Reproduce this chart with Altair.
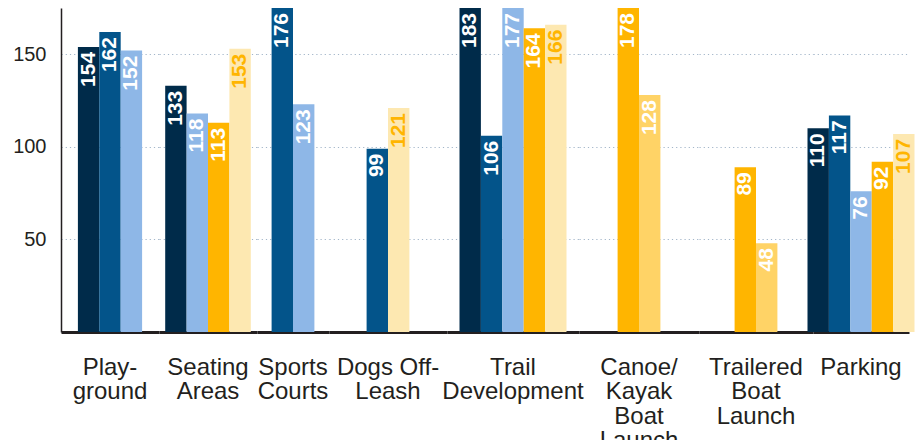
import altair as alt
import pandas as pd

categories = ["Play-\nground", "Seating\nAreas", "Sports\nCourts", "Dogs Off-\nLeash",
              "Trail\nDevelopment", "Canoe/\nKayak\nBoat\nLaunch", "Trailered\nBoat\nLaunch", "Parking"]
series_names = ["Series 1", "Series 2", "Series 3", "Series 4", "Series 5", "Series 6"]
s1 = [154, 133, None, None, 183, None, None, 110]
s2 = [162, None, 176, 99, 106, None, None, 117]
s3 = [152, 118, 123, None, 177, None, None, 76]
s4 = [None, 113, None, None, 164, 178, 89, 92]
s5 = [None, 153, None, 121, 166, None, None, 107]
s6 = [None, None, None, None, None, 128, 48, None]
series_values = [s1, s2, s3, s4, s5, s6]
series_colors = ["#002b4a", "#03548a", "#8eb7e7", "#ffb500", "#fde8b1", "#ffd366"]
y_ticks = [50, 100, 150]

rows = []
for ci, c in enumerate(categories):
    present = [(s, vals[ci]) for s, vals in zip(series_names, series_values) if vals[ci] is not None]
    n = len(present)
    for k, (s, v) in enumerate(present):
        rows.append(dict(category=c, series=s, value=v, slot=k - (n - 1) / 2))
df = pd.DataFrame(rows)

FONT = "Liberation Sans"
INK = "#231f20"
BAR_W = 21.4
PLOT_H = 324
# width of each category's panel (layout only)
panel_widths = [98, 98, 72, 118, 132, 120, 114, 96]


def panel(i, cat, w):
    x = alt.X("category:N", title=None,
              scale=alt.Scale(domain=[cat], paddingInner=0, paddingOuter=0),
              axis=alt.Axis(labelAngle=0, labelFont=FONT, labelFontSize=24, labelColor=INK,
                            labelLineHeight=24.5, labelPadding=23, ticks=False, domainColor=INK,
                            domainWidth=3, labelOverlap=False, grid=False, labelLimit=300,
                            labelExpr="split(datum.value, '\\n')"))
    xo = alt.XOffset("slot:Q", scale=alt.Scale(domain=[-2.5, 2.5],
                                               range=[w / 2 - 2.5 * BAR_W, w / 2 + 2.5 * BAR_W]))
    if i == 0:
        yaxis = alt.Axis(values=y_ticks, ticks=False, labelFont=FONT, labelFontSize=20,
                         labelColor=INK, labelPadding=15, domainColor=INK, domainWidth=1.5,
                         grid=True, gridColor="#a3b6c9", gridDash=[1.2, 3], gridWidth=1.2)
    else:
        yaxis = alt.Axis(values=y_ticks, ticks=False, labels=False, domain=False, minExtent=0,
                         grid=True, gridColor="#a3b6c9", gridDash=[1.2, 3], gridWidth=1.2)
    y = alt.Y("value:Q", title=None,
              scale=alt.Scale(domain=[0, 175], nice=False, clamp=True), axis=yaxis)
    base = alt.Chart(df).transform_filter(alt.datum.category == cat)
    bars = base.mark_bar(width=BAR_W).encode(
        x=x, xOffset=xo, y=y,
        color=alt.Color("series:N", scale=alt.Scale(domain=series_names, range=series_colors),
                        legend=None),
    )
    labels = base.mark_text(angle=270, align="right", baseline="middle", dx=-5,
                            font=FONT, fontSize=21, fontWeight="bold").encode(
        x=x, xOffset=xo, y=y,
        text=alt.Text("value:Q"),
        color=alt.condition(alt.datum.series == "Series 5", alt.value("#ffb500"), alt.value("white")),
    )
    return alt.layer(bars, labels).properties(width=w, height=PLOT_H)


panels = [panel(i, c, w) for i, (c, w) in enumerate(zip(categories, panel_widths))]
chart = alt.hconcat(*panels, spacing=0, bounds="flush").resolve_scale(
    x="independent", xOffset="independent", y="independent"
).resolve_axis(x="independent", y="independent").properties(
    padding={"left": 4, "top": 0, "right": 0, "bottom": -13}
).configure_view(stroke=None)

chart.save("out.html", embed_options={"renderer": "svg", "actions": False})
